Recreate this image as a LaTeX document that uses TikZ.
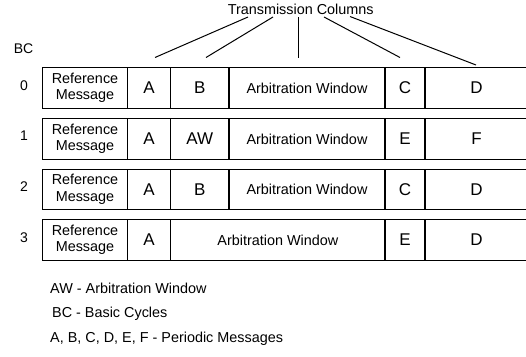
\documentclass[tikz,border=0pt]{standalone}
\usepackage{fontspec}
\setmainfont{Liberation Sans}
\newcommand{\mycell}[6]{\node[cell,#6,minimum width={#3-#2}] (#1) at ({(#2+#3)/2},#4) {#5};}
\begin{document}
\begin{tikzpicture}[x=1pt,y=-1pt,
  cell/.style={draw, line width=1.1pt, inner sep=0pt, minimum height=40.5pt, align=center,
    font=\fontsize{14.4}{16.5}\selectfont},
  big/.style={font=\fontsize{17}{20}\selectfont},
  lbl/.style={font=\fontsize{14}{17}\selectfont, inner sep=0pt},
  conn/.style={line width=1pt}]
\useasboundingbox (0,0) rectangle (526,356);

% title
\node[lbl, font=\fontsize{14.4}{17}\selectfont] (title) at (300.7,9.5) {Transmission Columns};
\node[lbl] (bc) at (23.5,49) {BC};

% row 0
\mycell{r0ref}{42.7}{127.3}{88}{Reference\\Message}{}
\mycell{r0a}{127.3}{170.7}{88}{A}{big}
\mycell{r0b}{170.7}{229}{88}{B}{big}
\mycell{r0aw}{229}{385}{88}{Arbitration Window}{}
\mycell{r0c}{385}{425}{88}{C}{big}
\mycell{r0d}{425}{528}{88}{D}{big}
% row 1
\mycell{r1ref}{42.7}{127.3}{139}{Reference\\Message}{}
\mycell{r1a}{127.3}{170.7}{139}{A}{big}
\mycell{r1b}{170.7}{229}{139}{AW}{big}
\mycell{r1aw}{229}{385}{139}{Arbitration Window}{}
\mycell{r1c}{385}{425}{139}{E}{big}
\mycell{r1d}{425}{528}{139}{F}{big}
% row 2
\mycell{r2ref}{42.7}{127.3}{189.5}{Reference\\Message}{}
\mycell{r2a}{127.3}{170.7}{189.5}{A}{big}
\mycell{r2b}{170.7}{229}{189.5}{B}{big}
\mycell{r2aw}{229}{385}{189.5}{Arbitration Window}{}
\mycell{r2c}{385}{425}{189.5}{C}{big}
\mycell{r2d}{425}{528}{189.5}{D}{big}
% row 3
\mycell{r3ref}{42.7}{127.3}{240}{Reference\\Message}{}
\mycell{r3a}{127.3}{170.7}{240}{A}{big}
\mycell{r3aw}{170.7}{385}{240}{Arbitration Window}{}
\mycell{r3c}{385}{425}{240}{E}{big}
\mycell{r3d}{425}{528}{240}{D}{big}

% row labels
\node[lbl] (l0) at (24,86) {0};
\node[lbl] (l1) at (24,136) {1};
\node[lbl] (l2) at (24,187) {2};
\node[lbl] (l3) at (24,237.5) {3};

% connectors
\coordinate (s1) at (248,17);
\coordinate (s2) at (273,17);
\coordinate (s3) at (298,17);
\coordinate (s4) at (324,17);
\coordinate (s5) at (350,16.5);
\coordinate (e1) at (155,57.5);
\coordinate (e2) at (206,57.5);
\coordinate (e3) at (298,57.5);
\coordinate (e4) at (400,57.5);
\coordinate (e5) at (476,65);
\draw[conn] (s1) -- (e1);
\draw[conn] (s2) -- (e2);
\draw[conn] (s3) -- (e3);
\draw[conn] (s4) -- (e4);
\draw[conn] (s5) -- (e5);

% legend
\node[lbl, anchor=west, font=\fontsize{14.4}{17}\selectfont] (lg1) at (50,288) {AW - Arbitration Window};
\node[lbl, anchor=west, font=\fontsize{14.4}{17}\selectfont] (lg2) at (52,314) {BC - Basic Cycles};
\node[lbl, anchor=west, font=\fontsize{14.4}{17}\selectfont] (lg3) at (50,339) {A, B, C, D, E, F - Periodic Messages};
\end{tikzpicture}
\end{document}
